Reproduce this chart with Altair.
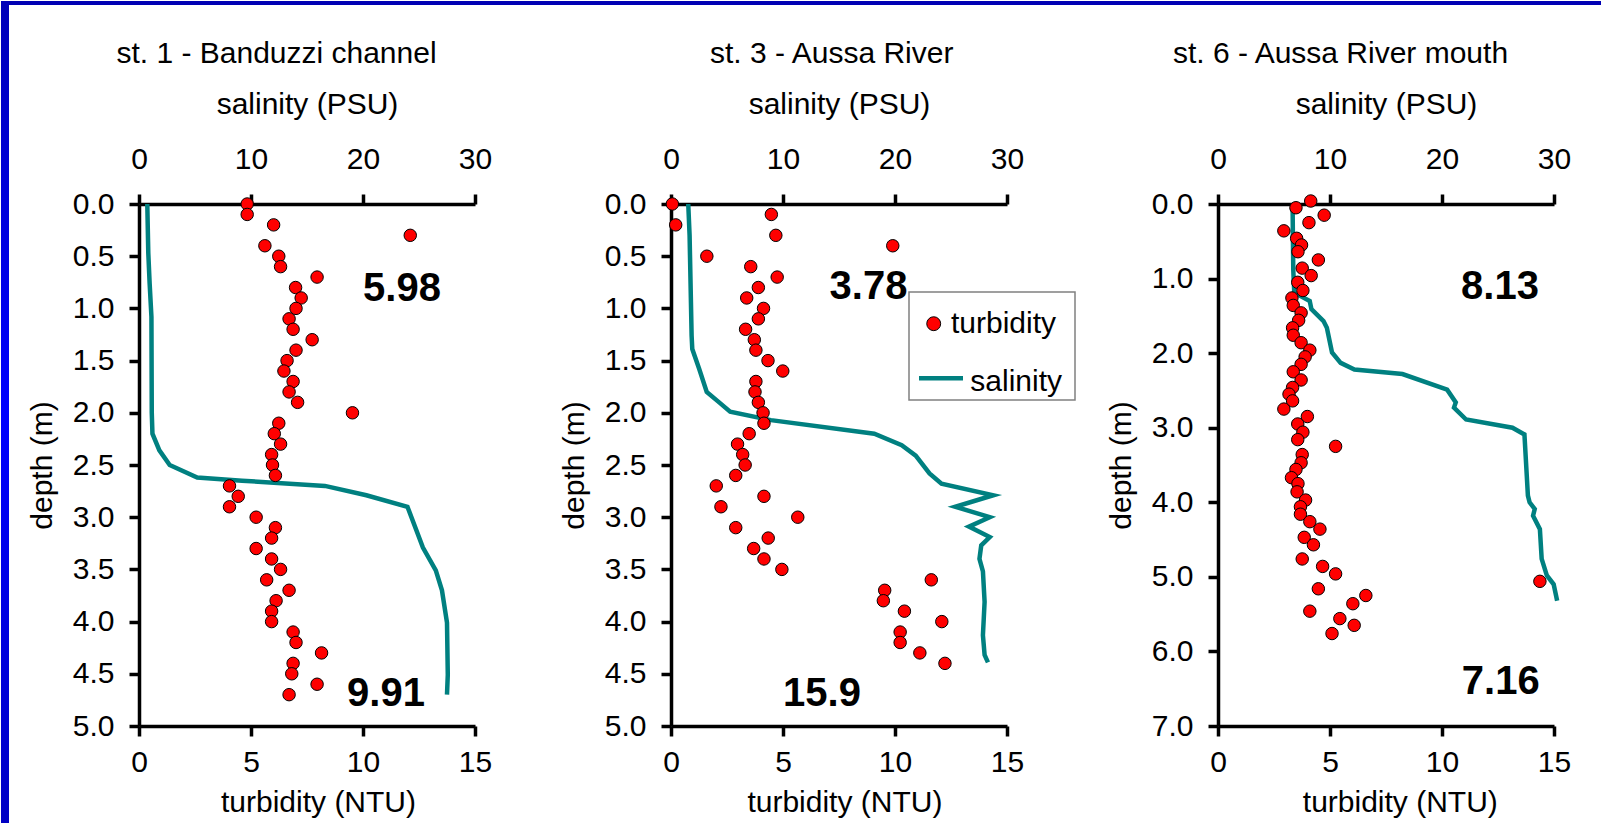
import altair as alt
import pandas as pd

FONT = "Liberation Sans"
RED = "#FF0000"
TEAL = "#008080"
TEXT_SIZE = 30

# ---------------- st. 1 - Banduzzi channel ----------------
st1_turb_depth = [0.0, 0.1, 0.2, 0.3, 0.4, 0.5, 0.6, 0.7, 0.8, 0.9,
                  1.0, 1.1, 1.2, 1.3, 1.4, 1.5, 1.6, 1.7, 1.8, 1.9,
                  2.0, 2.1, 2.2, 2.3, 2.4, 2.5, 2.6, 2.7, 2.8, 2.9,
                  3.0, 3.1, 3.2, 3.3, 3.4, 3.5, 3.6, 3.7, 3.8, 3.9,
                  4.0, 4.1, 4.2, 4.3, 4.4, 4.5, 4.6, 4.7]
st1_turb = [4.83, 4.83, 6.01, 12.11, 5.62, 6.24, 6.32, 7.95, 6.99, 7.24,
            7.01, 6.70, 6.88, 7.73, 7.01, 6.61, 6.47, 6.88, 6.70, 7.08,
            9.53, 6.24, 6.04, 6.32, 5.92, 5.96, 6.09, 4.04, 4.43, 4.04,
            5.23, 6.09, 5.92, 5.23, 5.92, 6.32, 5.70, 6.70, 6.12, 5.92,
            5.92, 6.88, 7.01, 8.15, 6.88, 6.82, 7.95, 6.70]
st1_sal_depth = [0.0, 0.47, 0.76, 1.08, 2.0, 2.2, 2.36, 2.5, 2.62, 2.65,
                 2.7, 2.79, 2.9, 3.29, 3.51, 3.7, 4.01, 4.51, 4.7]
st1_sal = [0.74, 0.83, 0.95, 1.11, 1.14, 1.2, 1.82, 2.74, 5.2, 9.2,
           16.6, 20.3, 23.97, 25.35, 26.5, 27.05, 27.5, 27.57, 27.5]
st1_notes = ["5.98", "9.91"]

# ---------------- st. 3 - Aussa River ----------------
st3_turb_depth = [0.0, 0.1, 0.2, 0.3, 0.4, 0.5, 0.6, 0.7, 0.8, 0.9,
                  1.0, 1.1, 1.2, 1.3, 1.4, 1.5, 1.6, 1.7, 1.8, 1.9,
                  2.0, 2.1, 2.2, 2.3, 2.4, 2.5, 2.6, 2.7, 2.8, 2.9,
                  3.0, 3.1, 3.2, 3.3, 3.4, 3.5, 3.6, 3.7, 3.8, 3.9,
                  4.0, 4.1, 4.2, 4.3, 4.4]
st3_turb = [0.06, 4.48, 0.21, 4.68, 9.90, 1.60, 3.56, 4.74, 3.90, 3.38,
            4.13, 3.90, 3.33, 3.72, 3.79, 4.33, 4.99, 3.79, 3.75, 3.90,
            4.11, 4.15, 3.49, 2.97, 3.20, 3.31, 2.89, 2.02, 4.15, 2.23,
            5.66, 2.89, 4.34, 3.69, 4.15, 4.95, 11.62, 9.54, 9.48, 10.42,
            12.09, 10.23, 10.23, 11.11, 12.23]
st3_sal_depth = [0.0, 0.30, 1.26, 1.39, 1.58, 1.80, 1.90, 1.99, 2.07, 2.20,
                 2.31, 2.41, 2.58, 2.68, 2.79, 2.90, 3.00, 3.09, 3.19, 3.27,
                 3.40, 3.52, 3.81, 4.13, 4.32, 4.39]
st3_sal = [1.54, 1.66, 1.84, 1.90, 2.52, 3.19, 4.30, 5.28, 8.92, 18.15,
           20.6, 21.85, 23.08, 24.15, 28.77, 25.38, 28.46, 26.6, 28.46, 27.7,
           27.54, 27.85, 28.0, 27.85, 28.0, 28.3]
st3_notes = ["3.78", "15.9"]

# ---------------- st. 6 - Aussa River mouth ----------------
st6_turb_depth = [-0.04, 0.05, 0.15, 0.25, 0.36, 0.46, 0.55, 0.64, 0.75, 0.86,
                  0.96, 1.05, 1.16, 1.26, 1.36, 1.46, 1.56, 1.66, 1.76, 1.86,
                  1.96, 2.05, 2.15, 2.25, 2.36, 2.46, 2.55, 2.64, 2.75, 2.85,
                  2.95, 3.06, 3.16, 3.25, 3.36, 3.47, 3.56, 3.67, 3.75, 3.86,
                  3.97, 4.06, 4.16, 4.26, 4.36, 4.47, 4.57, 4.76, 4.86, 4.96,
                  5.06, 5.16, 5.25, 5.36, 5.46, 5.56, 5.65, 5.76]
st6_turb = [4.14, 3.48, 4.74, 4.06, 2.94, 3.51, 3.73, 3.57, 4.48, 3.76,
            4.16, 3.56, 3.79, 3.30, 3.36, 3.71, 3.60, 3.33, 3.36, 3.71,
            4.10, 3.89, 3.71, 3.36, 3.71, 3.33, 3.17, 3.33, 2.94, 3.99,
            3.56, 3.79, 3.56, 5.25, 3.76, 3.71, 3.48, 3.28, 3.57, 3.53,
            3.91, 3.68, 3.68, 4.10, 4.55, 3.85, 4.26, 3.76, 4.67, 5.25,
            14.37, 4.48, 6.60, 6.02, 4.10, 5.44, 6.08, 5.09]
st6_sal_depth = [0.03, 0.88, 1.19, 1.30, 1.41, 1.57, 1.66, 1.99, 2.13, 2.22,
                 2.28, 2.49, 2.66, 2.73, 2.89, 3.00, 3.09, 3.91, 4.00, 4.09,
                 4.18, 4.36, 4.76, 4.98, 5.10, 5.32]
st6_sal = [6.66, 6.72, 6.81, 8.19, 8.34, 9.42, 9.72, 10.18, 10.95, 12.18,
           16.47, 20.46, 21.23, 21.07, 22.15, 26.29, 27.36, 27.67, 27.82, 28.28,
           28.13, 28.74, 28.9, 29.36, 29.97, 30.28]
st6_notes = ["8.13", "7.16"]

legend_labels = ["turbidity", "salinity"]

PLOT_W = 336
PLOT_H = 522
one_row = pd.DataFrame({"k": [0]})


def text_layer(label, x, y, size=TEXT_SIZE, weight="normal", align="center"):
    return alt.Chart(pd.DataFrame({"label": [label]})).mark_text(
        font=FONT, fontSize=size, fontWeight=weight, color="black",
        align=align, baseline="alphabetic"
    ).encode(x=alt.value(x), y=alt.value(y), text="label:N")


def panel(title, title_x, turb_depth, turb, sal_depth, sal, ymax, yticks,
          bottom_title_x, notes, note_pos, extra=()):
    y_enc = alt.Y(
        "depth:Q",
        scale=alt.Scale(domain=[0, ymax], reverse=True, nice=False, zero=False),
        axis=alt.Axis(orient="left", values=yticks, format=".1f",
                      title="depth (m)", labelPadding=15,
                      titleX=-88, titleY=PLOT_H / 2, titleAngle=270,
                      titleAlign="center", titleBaseline="alphabetic"),
    )
    sal_df = pd.DataFrame({"depth": sal_depth, "salinity": sal,
                           "i": list(range(len(sal)))})
    turb_df = pd.DataFrame({"depth": turb_depth, "turbidity": turb})

    line = alt.Chart(sal_df).mark_line(
        color=TEAL, strokeWidth=4.5, strokeJoin="miter"
    ).encode(
        x=alt.X("salinity:Q",
                scale=alt.Scale(domain=[0, 30], nice=False, zero=False),
                axis=alt.Axis(orient="top", values=[0, 10, 20, 30],
                              title="salinity (PSU)", labelPadding=26,
                              labelBaseline="alphabetic",
                              titleX=PLOT_W / 2, titleY=-91,
                              titleAlign="center", titleBaseline="alphabetic")),
        y=y_enc,
        order="i:Q",
    )
    points = alt.Chart(turb_df).mark_circle(
        color=RED, stroke="black", strokeWidth=1, size=155, opacity=1
    ).encode(
        x=alt.X("turbidity:Q",
                scale=alt.Scale(domain=[0, 15], nice=False, zero=False),
                axis=alt.Axis(orient="bottom", values=[0, 5, 10, 15],
                              title="turbidity (NTU)", labelPadding=35,
                              labelBaseline="alphabetic",
                              titleX=bottom_title_x, titleY=85,
                              titleAlign="center", titleBaseline="alphabetic")),
        y=y_enc,
    )
    layers = [line, points]
    layers.append(text_layer(title, title_x, -141.5))
    for note, (nx, ny) in zip(notes, note_pos):
        layers.append(text_layer(note, nx, ny, size=40, weight="bold"))
    layers.extend(extra)
    return alt.layer(*layers).resolve_scale(x="independent").properties(
        width=PLOT_W, height=PLOT_H)


# legend box of the middle panel
legend = [
    alt.Chart(one_row).mark_rect(fill="white", stroke="#808080", strokeWidth=1.5)
    .encode(x=alt.value(238), x2=alt.value(404), y=alt.value(88), y2=alt.value(196)),
    alt.Chart(one_row).mark_circle(color=RED, stroke="black", strokeWidth=1,
                                   size=193, opacity=1)
    .encode(x=alt.value(262.7), y=alt.value(119.7)),
    alt.Chart(one_row).mark_rule(color=TEAL, strokeWidth=4.5)
    .encode(x=alt.value(248), x2=alt.value(292), y=alt.value(174.3)),
    text_layer(legend_labels[0], 280, 128.7, align="left"),
    text_layer(legend_labels[1], 299.3, 187, align="left"),
]

p1 = panel("st. 1 - Banduzzi channel", 137.5, st1_turb_depth, st1_turb,
           st1_sal_depth, st1_sal, 5, [0, 0.5, 1, 1.5, 2, 2.5, 3, 3.5, 4, 4.5, 5],
           179, st1_notes, [(263, 97), (247, 502)])
p2 = panel("st. 3 - Aussa River", 160.7, st3_turb_depth, st3_turb,
           st3_sal_depth, st3_sal, 5, [0, 0.5, 1, 1.5, 2, 2.5, 3, 3.5, 4, 4.5, 5],
           173.4, st3_notes, [(197.5, 95.3), (151, 502)], extra=legend)
p3 = panel("st. 6 - Aussa River mouth", 122.5, st6_turb_depth, st6_turb,
           st6_sal_depth, st6_sal, 7, [0, 1, 2, 3, 4, 5, 6, 7],
           181.8, st6_notes, [(282, 95.3), (282.7, 489.7)])

# page frame: white sheet with a blue band along the top and the left side,
# drawn first so everything else sits on top
side_blue = alt.LinearGradient(
    gradient="linear",
    stops=[alt.GradientStop(color="#0000B8", offset=0),
           alt.GradientStop(color="#0000FF", offset=0.5),
           alt.GradientStop(color="#0000C4", offset=1)],
    x1=0, x2=0, y1=0, y2=1,
)
frame = alt.layer(
    alt.Chart(one_row).mark_rect(color="white")
    .encode(x=alt.value(8), x2=alt.value(1600), y=alt.value(-199), y2=alt.value(619)),
    alt.Chart(one_row).mark_rect(color="#0000B4")
    .encode(x=alt.value(0), x2=alt.value(1600), y=alt.value(-203), y2=alt.value(-199)),
    alt.Chart(one_row).mark_rect(color=side_blue)
    .encode(x=alt.value(0), x2=alt.value(8), y=alt.value(-203), y2=alt.value(619)),
).properties(width=138, height=PLOT_H)


def gap(w):
    return alt.Chart(one_row).mark_point(opacity=0).encode(
        x=alt.value(0), y=alt.value(0)).properties(width=w, height=PLOT_H)


chart = alt.hconcat(
    frame, p1, gap(196), p2, gap(211), p3, spacing=0, bounds="flush"
).properties(
    padding=0, background="white"
).configure_view(
    stroke="transparent"
).configure_axis(
    domainColor="black", domainWidth=3.5, tickColor="black", tickWidth=3.5,
    tickSize=10, labelFont=FONT, labelFontSize=TEXT_SIZE, labelColor="black",
    titleFont=FONT, titleFontSize=TEXT_SIZE, titleFontWeight="normal",
    titleColor="black", grid=False, labelFlush=False, labelOverlap=False,
)

chart.save("out.html", embed_options={"renderer": "svg", "actions": False})
